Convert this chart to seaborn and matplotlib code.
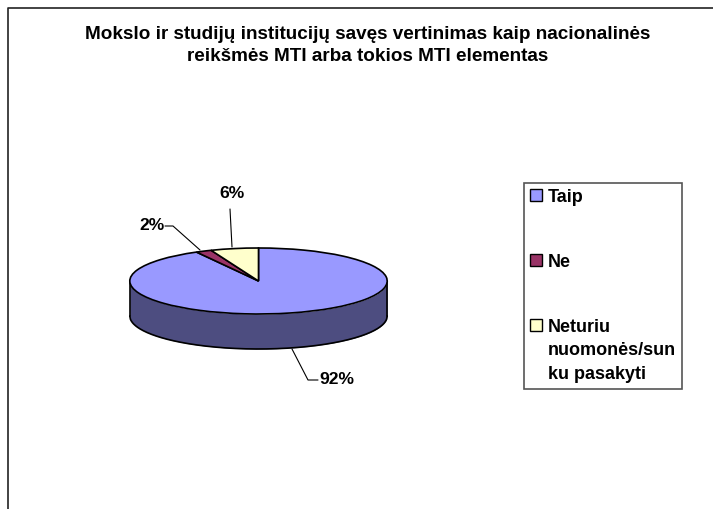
import numpy as np
import matplotlib
matplotlib.use("Agg")
import matplotlib.pyplot as plt
from matplotlib.lines import Line2D
import seaborn as sns

title = "Mokslo ir studijų institucijų savęs vertinimas kaip nacionalinės\nreikšmės MTI arba tokios MTI elementas"
categories = ["Taip", "Ne", "Neturiu\nnuomonės/sun\nku pasakyti"]
values = [92, 2, 6]
colors = ["#9999FF", "#993366", "#FFFFCC"]
wall_color = "#4D4D80"

sns.set_theme(style="white")
plt.rcParams["font.family"] = ["Liberation Sans", "DejaVu Sans"]
plt.rcParams["font.weight"] = "bold"

W, H = 713, 509
CX, CY, RX, RY, DEPTH = 258.5, 281, 128.7, 33, 35

fig = plt.figure(figsize=(W / 100, H / 100), dpi=100, facecolor="white")
ax = fig.add_axes([0, 0, 1, 1])

def px(x, y):
    return (x - CX) / RX, (CY - y) / RY

d = DEPTH / RY
t = np.linspace(-1, 1, 400)
low = -np.sqrt(1 - t ** 2)
ax.fill_between(t, low, low - d, color=wall_color, lw=0, zorder=1)
ax.plot(t, low - d, color="black", lw=1.2, zorder=2)
ax.plot([-1, -1], [0, -d], color="black", lw=1.2, zorder=2)
ax.plot([1, 1], [0, -d], color="black", lw=1.2, zorder=2)

wedges, _ = ax.pie(
    values, colors=colors, startangle=90, counterclock=False, radius=1,
    wedgeprops=dict(edgecolor="black", linewidth=1.2, zorder=3),
)
ax.set_aspect("auto")
ax.set_frame_on(False)
ax.set_xlim(*[px(0, 0)[0], px(W, 0)[0]])
ax.set_ylim(px(0, H)[1], px(0, 0)[1])
ax.set_xticks([])
ax.set_yticks([])

fs_lab = 12.6
total = sum(values)
labels_txt = [f"{round(v / total * 100)}%" for v in values]
label_pos = [(337, 380), (152, 226), (232, 194)]
leaders = [
    [(292, 349), (308, 380), (318, 380)],
    [(200, 250), (173, 226), (165, 226)],
    [(232, 247), (230, 209)],
]
for txt, (lx, ly), ld in zip(labels_txt, label_pos, leaders):
    ax.text(*px(lx, ly), txt, ha="center", va="center", fontsize=fs_lab, fontweight="bold", color="black", zorder=5)
    xs, ys = zip(*[px(*p) for p in ld])
    ax.plot(xs, ys, color="black", lw=0.8, zorder=4)

fig.text(368 / W, 1 - 45.5 / H, title, ha="center", va="center", fontsize=13.55,
         fontweight="bold", color="black", linespacing=1.42)

leg = ax.legend(
    wedges, categories, loc="upper left",
    bbox_to_anchor=(524 / W, 1 - 182.5 / H), bbox_transform=fig.transFigure,
    frameon=True, fancybox=False, framealpha=1, edgecolor="#555555",
    fontsize=13, labelspacing=2.66, handlelength=0.66, handleheight=0.66,
    handletextpad=0.3, borderaxespad=0, borderpad=0.35, labelcolor="black",
)
leg.get_frame().set_linewidth(1.2)
for h in leg.legend_handles:
    h.set_edgecolor("black")
    h.set_linewidth(1.0)
for txt in leg.get_texts():
    txt.set_linespacing(1.5)
for row in leg._legend_handle_box.get_children()[0].get_children():
    row.align = "top"

fig.add_artist(Line2D([7.5 / W, 7.5 / W, 1], [0, 1 - 7.5 / H, 1 - 7.5 / H], color="#222222", lw=1.2))
fig.savefig("out.png", dpi=100)
